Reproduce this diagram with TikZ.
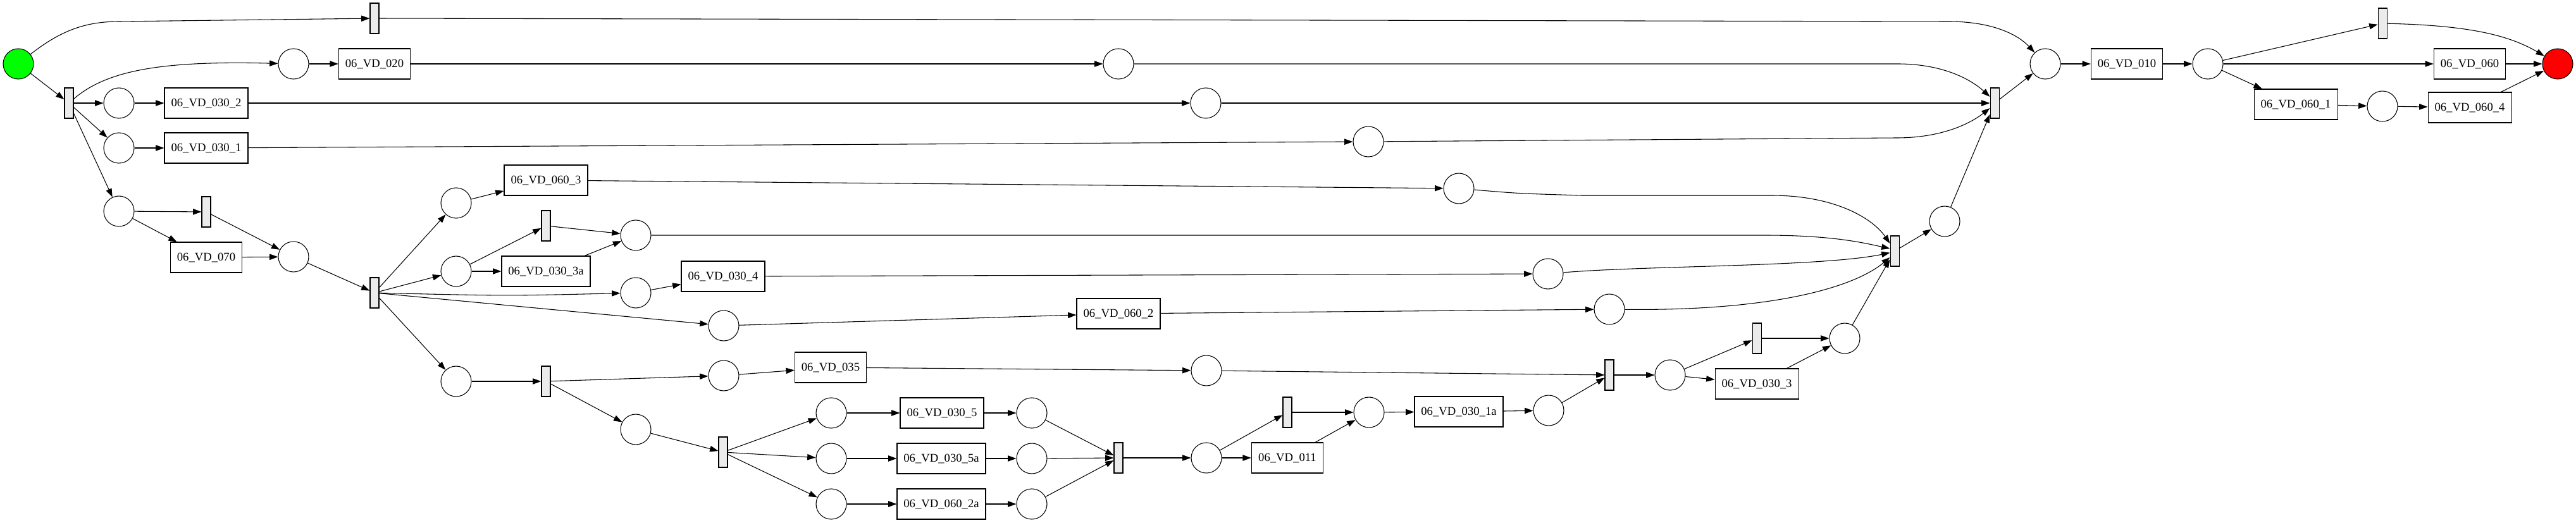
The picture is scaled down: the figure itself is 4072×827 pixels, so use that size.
\documentclass[tikz,border=0pt]{standalone}
\usepackage{fontspec}
\setmainfont{Liberation Serif}
\usetikzlibrary{arrows.meta}
\definecolor{tgray}{RGB}{235,235,235}
\definecolor{pgreen}{RGB}{0,255,0}
\definecolor{pred}{RGB}{255,0,0}
\begin{document}
\begin{tikzpicture}[x=0.75pt,y=-0.75pt,
  place/.style={circle,draw,line width=0.8pt,minimum size=36pt,inner sep=0pt},
  trans/.style={rectangle,draw,fill=tgray,line width=0.8pt,minimum width=10.5pt,minimum height=36pt,inner sep=0pt},
  act/.style={rectangle,draw,line width=0.8pt,minimum height=36pt,inner sep=0pt,font=\fontsize{14}{16}\selectfont},
  wa/.style={act,minimum width=85pt},
  wb/.style={act,minimum width=99pt},
  wc/.style={act,minimum width=105pt},
  arc/.style={line width=0.8pt,-{Triangle[length=10pt,width=7pt]}},
]
\fill[white] (0,0) rectangle (4072,827);
\useasboundingbox (0,0) rectangle (4072,827);

% places
\node[place,fill=pgreen] (start) at (29,101) {};
\node[place] (p1) at (464,101) {};
\node[place] (p2) at (188,163) {};
\node[place] (p3) at (188,234) {};
\node[place] (p4) at (188,334) {};
\node[place] (p5) at (464,406) {};
\node[place] (p6) at (1768,101) {};
\node[place] (p7) at (1906,163) {};
\node[place] (p8) at (2163,224) {};
\node[place] (p9) at (721,321) {};
\node[place] (p10) at (721,429) {};
\node[place] (p11) at (1005,372) {};
\node[place] (p12) at (1005,463) {};
\node[place] (p13) at (1144,515) {};
\node[place] (p14) at (721,603) {};
\node[place] (p15) at (1144,594) {};
\node[place] (p16) at (1005,679) {};
\node[place] (p17) at (1314,653) {};
\node[place] (p18) at (1314,725) {};
\node[place] (p19) at (1314,797) {};
\node[place] (p20) at (1631,653) {};
\node[place] (p21) at (1631,725) {};
\node[place] (p22) at (1631,797) {};
\node[place] (p23) at (1907,724) {};
\node[place] (p24) at (2164,652) {};
\node[place] (p25) at (2448,649) {};
\node[place] (p26) at (1907,586) {};
\node[place] (p27) at (2640,593) {};
\node[place] (p28) at (2916,535) {};
\node[place] (p29) at (2306,298) {};
\node[place] (p30) at (2447,433) {};
\node[place] (p31) at (2544,489) {};
\node[place] (p32) at (3074,350) {};
\node[place] (p33) at (3233,101) {};
\node[place] (p34) at (3490,101) {};
\node[place] (p35) at (3766,168) {};
\node[place,fill=pred] (end) at (4043,101) {};

% silent transitions
\node[trans] (t0) at (592,29) {};
\node[trans] (t1) at (109,163) {};
\node[trans] (t2) at (326,335) {};
\node[trans] (t3) at (592,463) {};
\node[trans] (t4) at (863,357) {};
\node[trans] (t5) at (863,603) {};
\node[trans] (t6) at (1143,715) {};
\node[trans] (t7) at (1768,724) {};
\node[trans] (t8) at (2035,652) {};
\node[trans] (t9) at (2544,593) {};
\node[trans] (t10) at (2777,535) {};
\node[trans] (t11) at (2995,397) {};
\node[trans] (t12) at (3153,163) {};
\node[trans] (t13) at (3766,37) {};

% labelled transitions
\node[wa] (a020) at (592,101) {06\_VD\_020};
\node[wb] (a0302) at (326,163) {06\_VD\_030\_2};
\node[wb] (a0301) at (326,234) {06\_VD\_030\_1};
\node[wa] (a070) at (326,407) {06\_VD\_070};
\node[wb] (a0603) at (863,285) {06\_VD\_060\_3};
\node[wc] (a0303a) at (863,429) {06\_VD\_030\_3a};
\node[wb] (a0304) at (1143,437) {06\_VD\_030\_4};
\node[wb] (a0602) at (1768,496) {06\_VD\_060\_2};
\node[wa] (a035) at (1313,581) {06\_VD\_035};
\node[wb] (a0305) at (1489,653) {06\_VD\_030\_5};
\node[wc] (a0305a) at (1488,725) {06\_VD\_030\_5a};
\node[wc] (a0602a) at (1488,797) {06\_VD\_060\_2a};
\node[wa] (a011) at (2035,724) {06\_VD\_011};
\node[wc] (a0301a) at (2306,651) {06\_VD\_030\_1a};
\node[wb] (a0303) at (2777,607) {06\_VD\_030\_3};
\node[wa] (a010) at (3362,101) {06\_VD\_010};
\node[wa] (a060) at (3904,101) {06\_VD\_060};
\node[wb] (a0601) at (3629,165) {06\_VD\_060\_1};
\node[wb] (a0604) at (3904,170) {06\_VD\_060\_4};

% arcs
\draw[arc] (start) .. controls (100,45) and (140,34) .. (190,34) -- (t0);
\draw[arc] (t0) -- (3080,34) .. controls (3150,34) and (3190,55) .. (p33);
\draw[arc] (start) -- (t1);
\draw[arc] (t1) .. controls (170,110) and (260,96) .. (p1);
\draw[arc] (t1) -- (p2);
\draw[arc] (t1) -- (p3);
\draw[arc] (t1) -- (p4);
\draw[arc] (p1) -- (a020);
\draw[arc] (a020) -- (p6);
\draw[arc] (p6) -- (3000,101) .. controls (3070,101) and (3115,125) .. ([yshift=7.5pt]t12.west);
\draw[arc] (p2) -- (a0302);
\draw[arc] (a0302) -- (p7);
\draw[arc] (p7) -- (t12);
\draw[arc] (p3) -- (a0301);
\draw[arc] (a0301) -- (p8);
\draw[arc] (p8) -- (2998,218) .. controls (3070,218) and (3115,195) .. ([yshift=-6pt]t12.west);
\draw[arc] (p4) -- (t2);
\draw[arc] (p4) -- (a070);
\draw[arc] (t2) -- (p5);
\draw[arc] (a070) -- (p5);
\draw[arc] (p5) -- (t3);
\draw[arc] (t3) -- (p9);
\draw[arc] (t3) -- (p10);
\draw[arc] (t3) .. controls (800,468) .. (p12);
\draw[arc] (t3) -- (p13);
\draw[arc] (t3) -- (p14);
\draw[arc] (p9) -- (a0603);
\draw[arc] (a0603) -- (p29);
\draw[arc] (p29) .. controls (2400,306) .. (2500,309) -- (2800,309) .. controls (2900,309) and (2960,345) .. ([yshift=9pt]t11.west);
\draw[arc] (p10) -- (t4);
\draw[arc] (p10) -- (a0303a);
\draw[arc] (t4) -- (p11);
\draw[arc] (a0303a) -- (p11);
\draw[arc] (p11) -- (2790,372) .. controls (2900,372) and (2950,385) .. ([yshift=3pt]t11.west);
\draw[arc] (p12) -- (a0304);
\draw[arc] (a0304) -- (p30);
\draw[arc] (p30) .. controls (2600,420) and (2880,422) .. ([yshift=-2pt]t11.west);
\draw[arc] (p13) -- (a0602);
\draw[arc] (a0602) -- (p31);
\draw[arc] (p31) .. controls (2800,492) and (2930,455) .. ([yshift=-7.5pt]t11.west);
\draw[arc] (p14) -- (t5);
\draw[arc] (t5) -- (p15);
\draw[arc] (t5) -- (p16);
\draw[arc] (p15) -- (a035);
\draw[arc] (a035) -- (p26);
\draw[arc] (p26) -- (t9);
\draw[arc] (p16) -- (t6);
\draw[arc] (t6) -- (p17);
\draw[arc] (t6) -- (p18);
\draw[arc] (t6) -- (p19);
\draw[arc] (p17) -- (a0305);
\draw[arc] (a0305) -- (p20);
\draw[arc] (p20) -- (t7);
\draw[arc] (p18) -- (a0305a);
\draw[arc] (a0305a) -- (p21);
\draw[arc] (p21) -- (t7);
\draw[arc] (p19) -- (a0602a);
\draw[arc] (a0602a) -- (p22);
\draw[arc] (p22) -- (t7);
\draw[arc] (t7) -- (p23);
\draw[arc] (p23) -- (t8);
\draw[arc] (p23) -- (a011);
\draw[arc] (t8) -- (p24);
\draw[arc] (a011) -- (p24);
\draw[arc] (p24) -- (a0301a);
\draw[arc] (a0301a) -- (p25);
\draw[arc] (p25) -- (t9);
\draw[arc] (t9) -- (p27);
\draw[arc] (p27) -- (t10);
\draw[arc] (p27) -- (a0303);
\draw[arc] (t10) -- (p28);
\draw[arc] (a0303) -- (p28);
\draw[arc] (p28) -- (t11);
\draw[arc] (t11) -- (p32);
\draw[arc] (p32) -- (t12);
\draw[arc] (t12) -- (p33);
\draw[arc] (p33) -- (a010);
\draw[arc] (a010) -- (p34);
\draw[arc] (p34) -- (t13);
\draw[arc] (p34) -- (a060);
\draw[arc] (p34) -- (a0601);
\draw[arc] (t13) .. controls (3900,40) and (3965,55) .. (end);
\draw[arc] (a060) -- (end);
\draw[arc] (a0601) -- (p35);
\draw[arc] (p35) -- (a0604);
\draw[arc] (a0604) -- (end);
\end{tikzpicture}
\end{document}
